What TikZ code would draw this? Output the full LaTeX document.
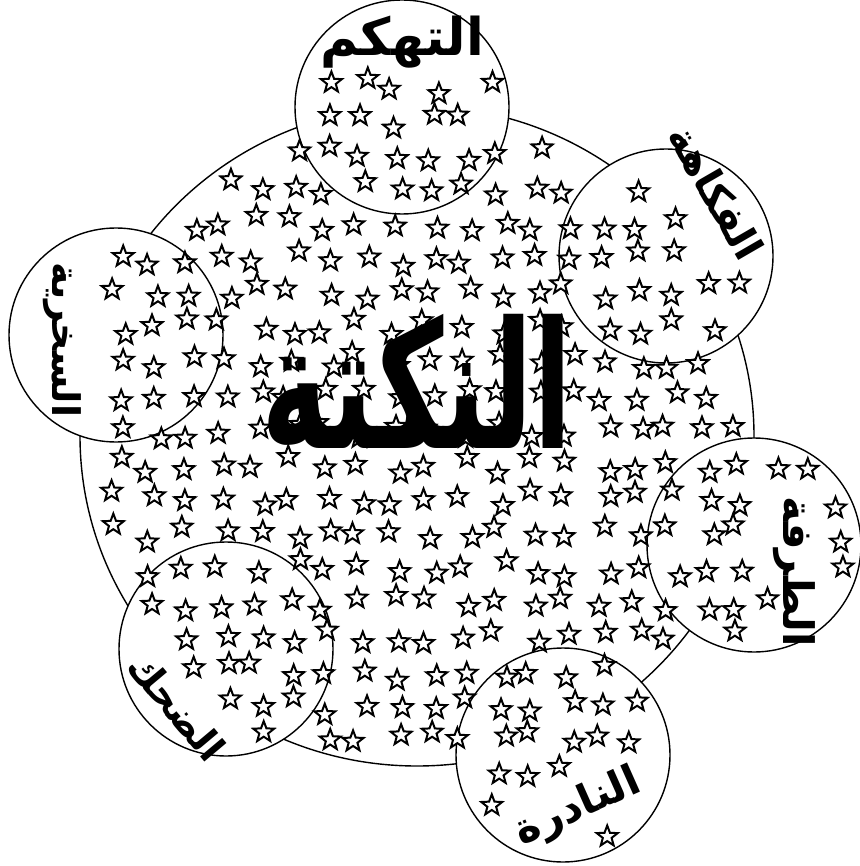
\documentclass[tikz,border=0pt]{standalone}
\usepackage{fontspec}
\usetikzlibrary{shapes.geometric}
\TeXXeTstate=1
\newfontfamily\arabicfont[Script=Arabic]{DejaVu Sans}
\tikzset{
  outline/.style={draw=black, line width=1.4pt},
  ring/.style={circle, outline, fill=white, inner sep=0pt, minimum size=214pt},
  lab/.style={font=\arabicfont\bfseries\fontsize{#1}{#1}\selectfont, inner sep=0pt},
  pics/starpic/.style={code={
    \draw[line width=2pt, line join=miter, fill=white]
      (90:11pt) -- (126:4.6pt) -- (162:11pt) -- (198:4.6pt) -- (234:11pt) --
      (270:4.6pt) -- (306:11pt) -- (342:4.6pt) -- (18:11pt) -- (54:4.6pt) -- cycle;
  }},
}
\begin{document}
\begin{tikzpicture}[x=1pt,y=-1pt]
\useasboundingbox (0,0) rectangle (859,866);
% big circle
\draw[outline] (417,436) ellipse [x radius=337, y radius=330];
\coordinate (bigc) at (417,436);
% small circles
\node[ring] (c1) at (402,107) {};
\node[ring] (c2) at (666,256) {};
\node[ring] (c3) at (754,545) {};
\node[ring] (c4) at (563,755) {};
\node[ring] (c5) at (226,649) {};
\node[ring] (c6) at (116,335) {};
% stars
\pgfmathsetseed{21}
\def\dd#1#2{veclen((\px-#1)/100,(\py-#2)/100)}
\foreach \i in {0,...,24}{
  \foreach \j in {0,...,24}{
    \pgfmathsetmacro\px{16+\i*34.5+rand*9}
    \pgfmathsetmacro\py{16+\j*34.5+rand*9}
    \pgfmathtruncatemacro\ok{(
      (veclen((\px-417)/337,(\py-436)/330)<0.96) ||
      (\dd{402}{107}<0.94) || (\dd{666}{256}<0.94) || (\dd{754}{545}<0.94) ||
      (\dd{563}{755}<0.94) || (\dd{226}{649}<0.94) || (\dd{116}{335}<0.94)
     ) && !(
      (\py<78) ||
      (\dd{693}{148}<0.42) || (\dd{716}{192}<0.42) || (\dd{742}{238}<0.42) ||
      (\dd{795}{512}<0.38) || (\dd{795}{570}<0.38) || (\dd{795}{628}<0.38) ||
      (\dd{632}{786}<0.38) || (\dd{578}{808}<0.38) || (\dd{524}{832}<0.38) ||
      (\dd{146}{668}<0.40) || (\dd{176}{706}<0.40) || (\dd{206}{745}<0.40) ||
      (\dd{62}{282}<0.36) || (\dd{62}{340}<0.36) || (\dd{62}{398}<0.36)
     ) ? 1 : 0}
    \ifnum\ok=1
      \pic (s-\i-\j) at (\px,\py) {starpic};
    \fi
  }
}
% labels
\node[lab=114, yscale=1.55] (main) at (417,381) {\beginR النكتة\endR};
\node[lab=52] (t1) at (402,42) {\beginR التهكم\endR};
\node[lab=40, rotate=-60] (t2) at (716,192) {\beginR الفكاهة\endR};
\node[lab=42, rotate=-90] (t3) at (794,572) {\beginR الطرفة\endR};
\node[lab=42, rotate=24] (t4) at (578,808) {\beginR النادرة\endR};
\node[lab=38, rotate=-50] (t5) at (177,707) {\beginR الضحك\endR};
\node[lab=38, rotate=-90] (t6) at (62,340) {\beginR السخرية\endR};
\end{tikzpicture}
\end{document}
